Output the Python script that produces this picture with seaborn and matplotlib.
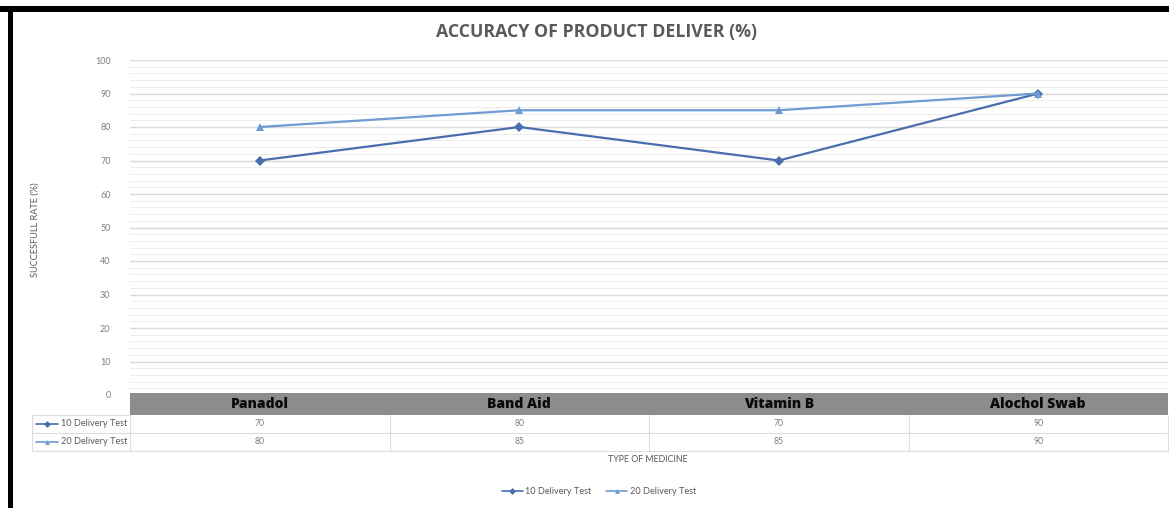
import matplotlib
matplotlib.use("Agg")
import matplotlib.pyplot as plt
import matplotlib.transforms as mtransforms
from matplotlib.patches import Rectangle
from matplotlib.lines import Line2D
from matplotlib.ticker import MultipleLocator
import seaborn as sns
import pandas as pd

categories = ["Panadol", "Band Aid", "Vitamin B", "Alochol Swab"]
series_names = ["10 Delivery Test", "20 Delivery Test"]
test10 = [70, 80, 70, 90]
test20 = [80, 85, 85, 90]
y_ticks = [0, 10, 20, 30, 40, 50, 60, 70, 80, 90, 100]

title = "ACCURACY OF PRODUCT DELIVER (%)"
y_label = "SUCCESFULL RATE (%)"
x_label = "TYPE OF MEDICINE"

colors = {"10 Delivery Test": "#4A6DAE", "20 Delivery Test": "#6E9CD2"}
markers = {"10 Delivery Test": "D", "20 Delivery Test": "^"}

df = pd.DataFrame({
    "medicine": categories * 2,
    "x": list(range(len(categories))) * 2,
    "series": [series_names[0]] * 4 + [series_names[1]] * 4,
    "value": test10 + test20,
})

sns.set_theme(style="white")
plt.rcParams["font.family"] = ["Lato", "DejaVu Sans"]

W, H = 1169, 508
fig = plt.figure(figsize=(W / 100, H / 100), dpi=100)
fig.patch.set_facecolor("white")

def fx(px):
    return px / W

def fy(py):
    return 1 - py / H

ax = fig.add_axes([fx(130), fy(395), fx(1168) - fx(130), fy(60) - fy(395)])

sns.lineplot(data=df, x="x", y="value", hue="series", style="series",
             palette=colors, markers=markers, dashes=False, ax=ax,
             linewidth=1.6, markersize=5.6, markeredgewidth=0, legend=False)

ax.set_xlim(-0.5, len(categories) - 0.5)
ax.set_ylim(0, 100)
ax.set_yticks(y_ticks)
ax.yaxis.set_minor_locator(MultipleLocator(2))
ax.grid(True, which="major", axis="y", color="#D9D9D9", linewidth=1.0)
ax.grid(True, which="minor", axis="y", color="#EDEDED", linewidth=0.7)
ax.set_axisbelow(True)
ax.set_xticks([])
ax.tick_params(axis="y", which="both", length=0, labelsize=6.5, labelcolor="#7F7F7F", pad=14)
ax.set_xlabel("")
ax.set_ylabel("")
for s in ax.spines.values():
    s.set_visible(False)

# Title
fig.text(fx(597), fy(32), title, ha="center", va="center", fontsize=12.8,
         fontweight="bold", color="#5A5A5A", family=["Open Sans", "DejaVu Sans"])
# Y label
fig.text(fx(35), fy(230), y_label, ha="center", va="center", rotation=90,
         fontsize=6.6, color="#595959")
# X label
fig.text(fx(648), fy(460), x_label, ha="center", va="center",
         fontsize=6.4, color="#595959")

# Data table
bt = mtransforms.blended_transform_factory(ax.transData, fig.transFigure)
hdr_top, hdr_bot = fy(393), fy(415)
row1_bot, row2_bot = fy(433), fy(451)
fig.add_artist(Rectangle((-0.5, hdr_bot), len(categories), hdr_top - hdr_bot,
                         transform=bt, facecolor="#8C8C8C", edgecolor="none"))
for i, cat in enumerate(categories):
    fig.text(i, (hdr_top + hdr_bot) / 2, cat, transform=bt, ha="center", va="center",
             fontsize=10, fontweight="heavy", color="#0A0A0A",
             family=["Open Sans", "DejaVu Sans"])
    fig.text(i, (hdr_bot + row1_bot) / 2, str(test10[i]), transform=bt, ha="center",
             va="center", fontsize=6.2, color="#7F7F7F")
    fig.text(i, (row1_bot + row2_bot) / 2, str(test20[i]), transform=bt, ha="center",
             va="center", fontsize=6.2, color="#7F7F7F")
grid_c = "#DDDDDD"
for yb in (row1_bot, row2_bot):
    fig.add_artist(Line2D([fx(32), fx(1168)], [yb, yb], transform=fig.transFigure,
                          color=grid_c, linewidth=0.8))
fig.add_artist(Line2D([fx(32), fx(130)], [hdr_bot, hdr_bot], transform=fig.transFigure,
                      color=grid_c, linewidth=0.8))
for xv in [fx(32), fx(130), fx(1168)]:
    fig.add_artist(Line2D([xv, xv], [hdr_bot, row2_bot], transform=fig.transFigure,
                          color=grid_c, linewidth=0.8))
for i in range(1, len(categories)):
    fig.add_artist(Line2D([i - 0.5, i - 0.5], [hdr_bot, row2_bot], transform=bt,
                          color=grid_c, linewidth=0.8))

# Row legend keys in table
for name, yc in zip(series_names, [(hdr_bot + row1_bot) / 2, (row1_bot + row2_bot) / 2]):
    fig.add_artist(Line2D([fx(36), fx(58)], [yc, yc], transform=fig.transFigure,
                          color=colors[name], linewidth=1.2))
    fig.add_artist(Line2D([fx(47)], [yc], transform=fig.transFigure, color=colors[name],
                          marker=markers[name], markersize=3.5, markeredgewidth=0))
    fig.text(fx(127), yc, name, ha="right", va="center", fontsize=6.6, color="#595959")

# Bottom legend
handles = [Line2D([], [], color=colors[n], marker=markers[n], markersize=3.5,
                  markeredgewidth=0, linewidth=1.2) for n in series_names]
fig.legend(handles, series_names, loc="center", bbox_to_anchor=(fx(599), fy(492)),
           ncol=2, frameon=False, fontsize=6.6, labelcolor="#595959",
           handlelength=2.3, handletextpad=0.3, columnspacing=1.6)

# Black frame (screenshot border)
fig.add_artist(Rectangle((0, fy(12)), 1, fy(6) - fy(12), transform=fig.transFigure,
                         facecolor="black", edgecolor="none"))
fig.add_artist(Rectangle((fx(8), 0), fx(5), fy(6), transform=fig.transFigure,
                         facecolor="black", edgecolor="none"))

fig.savefig("out.png", dpi=100, facecolor="white")
